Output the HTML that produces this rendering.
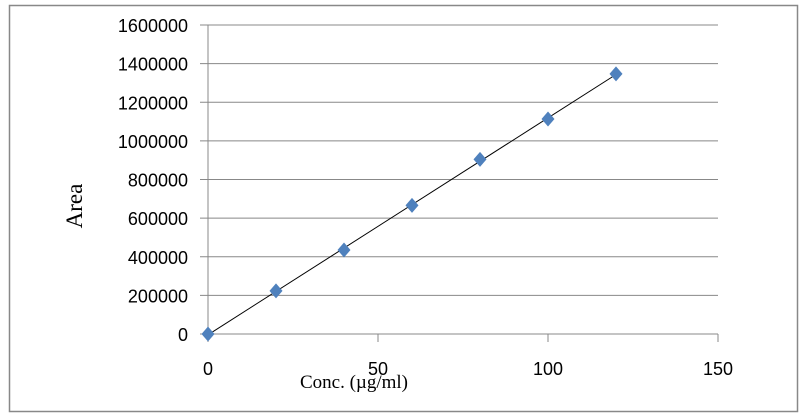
<!DOCTYPE html>
<html><head><meta charset="utf-8"><style>
html,body{margin:0;padding:0;background:#fff;width:804px;height:418px;overflow:hidden}
svg text{font-family:"Liberation Sans",sans-serif}
</style></head><body>
<svg id="chart" width="804" height="418">
<rect x="9.5" y="5.5" width="788" height="406" fill="#fff" stroke="#888" stroke-width="1.5"/>
<g id="grid"></g><g id="axes"></g><g id="marks"></g>
<text x="82" y="206" font-size="23" text-anchor="middle" transform="rotate(-90 82 206)" style="font-family:'Liberation Serif',serif">Area</text>
<text x="354" y="388" font-size="19" text-anchor="middle" style="font-family:'Liberation Serif',serif">Conc. (µg/ml)</text>
</svg>
<script>
const xValues=[0,20,40,60,80,100,120];
const yValues=[0,223000,435000,666000,904000,1113000,1347000];
const yTicks=[0,200000,400000,600000,800000,1000000,1200000,1400000,1600000];
const xTicks=[0,50,100,150];
const NS="http://www.w3.org/2000/svg";
const X0=208,X1=718,Y0=334,Y1=25;
const sx=v=>X0+(v-0)/(150-0)*(X1-X0);
const sy=v=>Y0-(v-0)/(1600000-0)*(Y0-Y1);
function mk(t,a,p){const e=document.createElementNS(NS,t);for(const k in a)e.setAttribute(k,a[k]);p.appendChild(e);return e;}
const grid=document.getElementById('grid'),axes=document.getElementById('axes'),marks=document.getElementById('marks');
yTicks.forEach(v=>{
 const l=mk('line',{x1:X0-8,x2:X1,y1:sy(v),y2:sy(v),stroke:'#888','stroke-width':1},grid);
 
 
 const t=mk('text',{x:188,y:sy(v)+7,'font-size':18,'text-anchor':'end',fill:'#000'},axes);
 t.textContent=v;
 
 
});
const ya=mk('line',{x1:X0,x2:X0,y1:Y1,y2:Y0,stroke:'#888','stroke-width':1},axes);


xTicks.forEach(v=>{
 const l=mk('line',{x1:sx(v),x2:sx(v),y1:Y0,y2:Y0+8,stroke:'#888','stroke-width':1},axes);
 
 
 const t=mk('text',{x:sx(v),y:375,'font-size':18,'text-anchor':'middle',fill:'#000'},axes);
 t.textContent=v;
 
 
});
const n=xValues.length;let mx=0,my=0;xValues.forEach((x,i)=>{mx+=x;my+=yValues[i]});mx/=n;my/=n;
let sxy=0,sxx=0;xValues.forEach((x,i)=>{sxy+=(x-mx)*(yValues[i]-my);sxx+=(x-mx)*(x-mx)});
const slope=sxy/sxx,icpt=my-slope*mx;
const xmin=Math.min(...xValues),xmax=Math.max(...xValues);
const tl=mk('line',{x1:sx(xmin),y1:sy(icpt+slope*xmin),x2:sx(xmax),y2:sy(icpt+slope*xmax),stroke:'#000','stroke-width':1},marks);


xValues.forEach((x,i)=>{
 const cx=sx(x),cy=sy(yValues[i]);
 const p=mk('polygon',{points:`${cx},${cy-7.5} ${cx+6.5},${cy} ${cx},${cy+7.5} ${cx-6.5},${cy}`,fill:'#4f81bd'},marks);
 
 
});
</script>
</body></html>
